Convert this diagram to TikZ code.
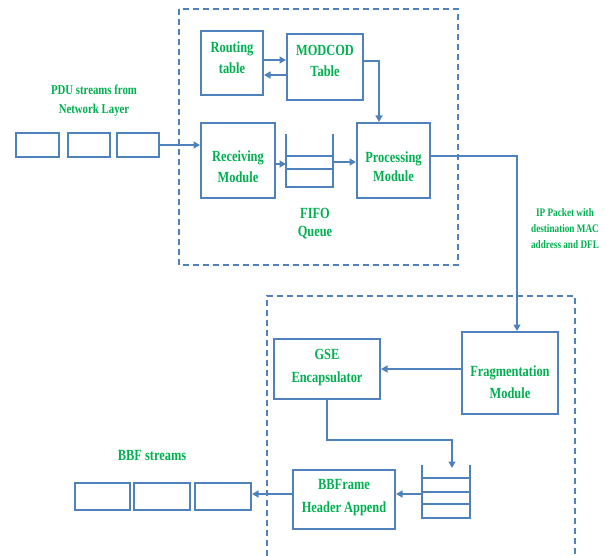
\documentclass[tikz,border=0pt]{standalone}
\usepackage{fontspec}
\setmainfont{Liberation Serif}[FakeStretch=0.8]
\usetikzlibrary{arrows.meta}
\definecolor{boxblue}{RGB}{79,129,189}
\definecolor{txtgreen}{RGB}{0,176,80}
\tikzset{
  box/.style={draw=boxblue, line width=2pt, inner sep=0pt},
  lbl/.style={text=txtgreen, align=center, inner sep=0pt, font=\bfseries\fontsize{15.5}{21}\selectfont},
  smalllbl/.style={text=txtgreen, align=center, inner sep=0pt, font=\bfseries\fontsize{11.5}{16}\selectfont},
  conn/.style={draw=boxblue, line width=1.5pt, -{Triangle[length=6.5pt,width=7pt]}},
  dashbox/.style={draw=boxblue, line width=1.4pt, dash pattern=on 6pt off 4pt},
  qline/.style={draw=boxblue, line width=1.6pt}
}
\begin{document}
\begin{tikzpicture}[x=1pt,y=-1pt]
\useasboundingbox (0,0) rectangle (607,556);
% dashed frames
\draw[dashbox] (179,9) rectangle (458,265);
\draw[dashbox] (267,556) -- (267,296) -- (575,296) -- (575,556);

% boxes
\node[box, minimum width=62pt, minimum height=64pt] (routing) at (232,63) {};
\node[box, minimum width=76pt, minimum height=66pt] (modcod) at (325,67) {};
\node[box, minimum width=74pt, minimum height=75pt] (recv) at (238,160.5) {};
\node[box, minimum width=73pt, minimum height=75pt] (proc) at (393.5,160.5) {};
\node[box, minimum width=96pt, minimum height=82pt] (frag) at (510,373) {};
\node[box, minimum width=106pt, minimum height=60pt] (gse) at (327,369) {};
\node[box, minimum width=102pt, minimum height=59pt] (bbfr) at (344,499.5) {};

% PDU stream boxes
\node[box, minimum width=43pt, minimum height=24pt] (pdu1) at (37.5,145) {};
\node[box, minimum width=42pt, minimum height=24pt] (pdu2) at (89,145) {};
\node[box, minimum width=42pt, minimum height=24pt] (pdu3) at (138,145) {};

% BBF stream boxes
\node[box, minimum width=55pt, minimum height=27pt] (bbf1) at (102.5,496.5) {};
\node[box, minimum width=56pt, minimum height=27pt] (bbf2) at (162,496.5) {};
\node[box, minimum width=56pt, minimum height=27pt] (bbf3) at (223,496.5) {};

% FIFO queue 1
\coordinate (q1tl) at (286,134);
\coordinate (q1tr) at (333,134);
\coordinate (q1in) at (286,164);
\coordinate (q1out) at (333,162);
\draw[qline] (q1tl) -- (286,187) -- (333,187) -- (q1tr);
\draw[qline] (286,156) -- (333,156);
\draw[qline] (286,169) -- (333,169);

% queue 2
\coordinate (q2tl) at (422,465);
\coordinate (q2tr) at (470,465);
\coordinate (q2in) at (452,468);
\coordinate (q2out) at (422,494);
\draw[qline] (q2tl) -- (422,518) -- (470,518) -- (q2tr);
\draw[qline] (422,478) -- (470,478);
\draw[qline] (422,492) -- (470,492);
\draw[qline] (422,504) -- (470,504);

% connectors
\draw[conn] (routing.east |- 0,60) -- (modcod.west |- 0,60);
\draw[conn] (modcod.west |- 0,75) -- (routing.east |- 0,75);
\draw[conn] (modcod.east |- 0,61) -| (proc.north -| 379,0);
\draw[conn] (pdu3.east) -- (recv.west |- pdu3.east);
\draw[conn] (recv.east |- q1in) -- (q1in);
\draw[conn] (q1out) -- (proc.west |- q1out);
\draw[conn] (proc.east |- 0,156) -| (frag.north -| 517,0);
\draw[conn] (frag.west |- gse.east) -- (gse.east);
\draw[conn] (gse.south) |- (452,440) -- (q2in);
\draw[conn] (q2out) -- (bbfr.east |- q2out);
\draw[conn] (bbfr.west |- q2out) -- (bbf3.east |- q2out);

% labels
\node[lbl] (routingT) at (232,58) {Routing\\table};
\node[lbl] (modcodT) at (325,61) {MODCOD\\Table};
\node[lbl] (recvT) at (238,167) {Receiving\\Module};
\node[lbl, font=\bfseries\fontsize{15.5}{19}\selectfont] (procT) at (393.5,166.5) {Processing\\Module};
\node[lbl, font=\bfseries\fontsize{15.5}{18}\selectfont] (fifoT) at (315,224) {FIFO\\Queue};
\node[lbl, font=\bfseries\fontsize{13.5}{19}\selectfont] (pduT) at (94,100.5) {PDU streams from\\Network Layer};
\node[smalllbl] (ipT) at (565,229) {IP Packet with\\destination MAC\\address and DFL};
\node[lbl, font=\bfseries\fontsize{15.5}{23}\selectfont] (gseT) at (327,367.5) {GSE\\Encapsulator};
\node[lbl, font=\bfseries\fontsize{15.5}{22}\selectfont] (fragT) at (510,382) {Fragmentation\\Module};
\node[lbl, font=\bfseries\fontsize{15.5}{23}\selectfont] (bbfrT) at (344,497.5) {BBFrame\\Header Append};
\node[lbl] (bbfT) at (152,455) {BBF streams};
\end{tikzpicture}
\end{document}
